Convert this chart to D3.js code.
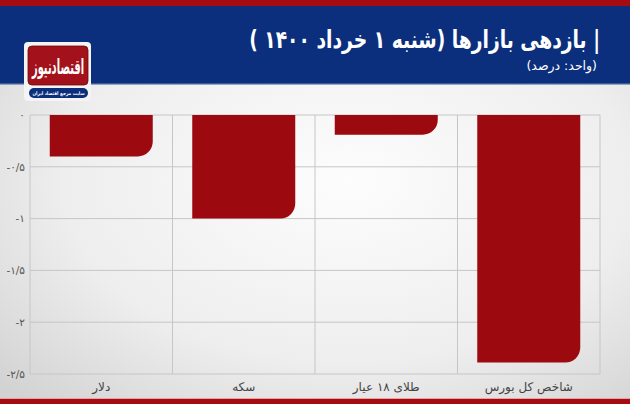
<!DOCTYPE html>
<html><head><meta charset="utf-8">
<script src="https://cdn.jsdelivr.net/npm/d3@7/dist/d3.min.js"></script>
<style>html,body{margin:0;padding:0;background:#fff}svg{display:block}</style>
</head><body>
<script>
const categories = ["دلار", "سکه", "طلای ۱۸ عیار", "شاخص کل بورس"];
const values = [-0.40, -1.00, -0.19, -2.39];
const tickValues = [0, -0.5, -1, -1.5, -2, -2.5];
const tickLabels = ["۰", "-۰/۵", "-۱", "-۱/۵", "-۲", "-۲/۵"];
const title = "| بازدهی بازارها (شنبه ۱ خرداد ۱۴۰۰ )";
const subtitle = "(واحد: درصد)";
const logoText = "اقتصادنیوز";
const logoSub = "سایت مرجع اقتصاد ایران";

const W = 630, H = 404;
const M = {left: 30, right: 30, top: 115, bottom: 30};
const FA = "'DejaVu Sans', sans-serif";

const svg = d3.select("body").append("svg").attr("width", W).attr("height", H);
const defs = svg.append("defs");
const rg = defs.append("radialGradient").attr("id", "bg").attr("cx", "55%").attr("cy", "45%").attr("r", "75%");
rg.append("stop").attr("offset", "0%").attr("stop-color", "#fdfdfd");
rg.append("stop").attr("offset", "60%").attr("stop-color", "#eeeeee");
rg.append("stop").attr("offset", "100%").attr("stop-color", "#d2d2d2");

svg.append("rect").attr("width", W).attr("height", H).attr("fill", "url(#bg)");
// header
svg.append("rect").attr("x", 0).attr("y", 0).attr("width", W).attr("height", 84).attr("fill", "#0b2f7c");
svg.append("rect").attr("x", 0).attr("y", 0).attr("width", W).attr("height", 6).attr("fill", "#a50c12");
svg.append("rect").attr("x", 0).attr("y", 83).attr("width", W).attr("height", 1.5).attr("fill", "#3d5a9a");
// bottom band
svg.append("rect").attr("x", 0).attr("y", 399).attr("width", W).attr("height", 5).attr("fill", "#a50c12");
svg.append("rect").attr("x", 0).attr("y", 398).attr("width", W).attr("height", 1).attr("fill", "#e8a0a0");

svg.append("g").attr("transform", "translate(600,48) scale(0.78,1.02)")
  .append("text").attr("x", 0).attr("y", 0)
  .attr("direction", "rtl").style("direction", "rtl").attr("text-anchor", "start")
  .attr("font-family", FA).attr("font-weight", "bold").attr("font-size", 24)
  .attr("fill", "#fff").text(title);
svg.append("text").attr("x", 597).attr("y", 70)
  .attr("direction", "rtl").style("direction", "rtl").attr("text-anchor", "start")
  .attr("font-family", FA).attr("font-size", 12.5)
  .attr("fill", "#fff").text(subtitle);

// logo
const lg = svg.append("g");
lg.append("rect").attr("x", 24).attr("y", 42).attr("width", 67).attr("height", 59).attr("rx", 4).attr("fill", "#f4f4f4");
lg.append("rect").attr("x", 28).attr("y", 46).attr("width", 60).attr("height", 39).attr("rx", 4).attr("fill", "#a3121a").attr("stroke", "#6e0a0e").attr("stroke-width", 0.8);
lg.append("g").attr("transform", "translate(58,74) scale(0.9,1.9)")
  .append("text").attr("x", 0).attr("y", 0).attr("text-anchor", "middle").style("direction", "rtl")
  .attr("font-family", FA).attr("font-weight", "bold").attr("font-size", 11).attr("fill", "#fff").text(logoText);
lg.append("rect").attr("x", 29).attr("y", 88).attr("width", 59).attr("height", 10).attr("rx", 5).attr("fill", "#0b2f7c");
lg.append("g").attr("transform", "translate(58.5,95.2) scale(0.85,1)")
  .append("text").attr("x", 0).attr("y", 0).attr("text-anchor", "middle").style("direction", "rtl")
  .attr("font-family", FA).attr("font-weight", "bold").attr("font-size", 5).attr("fill", "#fff").text(logoSub);

// scales
const x = d3.scaleBand().domain(categories).range([M.left, W - M.right]).paddingInner(0).paddingOuter(0);
const y = d3.scaleLinear().domain([0, -2.5]).range([115, 374]);

const plot = svg.append("g");
// horizontal grid
plot.append("g").selectAll("line").data(tickValues).join("line")
  .attr("x1", M.left).attr("x2", W - M.right)
  .attr("y1", d => y(d)).attr("y2", d => y(d))
  .attr("stroke", "#c6c6c6").attr("stroke-width", 1);
// vertical grid / band separators
const seps = categories.map(c => x(c)).concat([x(categories[categories.length - 1]) + x.bandwidth()]);
plot.append("g").selectAll("line").data(seps).join("line")
  .attr("x1", d => d).attr("x2", d => d)
  .attr("y1", y(0)).attr("y2", y(-2.5))
  .attr("stroke", "#c6c6c6").attr("stroke-width", 1);

// bars
const barW = 103, r = 15;
function barPath(cx, v) {
  const x0 = cx - barW / 2, x1 = cx + barW / 2;
  const y0 = y(0), y1 = y(v);
  const rr = Math.min(r, (y1 - y0));
  return `M${x0},${y0}H${x1}V${y1 - rr}A${rr},${rr} 0 0 1 ${x1 - rr},${y1}H${x0}Z`;
}
plot.append("g").selectAll("path").data(values).join("path")
  .attr("d", (v, i) => barPath(x(categories[i]) + x.bandwidth() / 2, v))
  .attr("fill", "#9c0a10");

// y axis labels
const yAxis = d3.axisLeft(y).tickValues(tickValues).tickSize(0).tickPadding(5)
  .tickFormat((d, i) => tickLabels[i]);
const ya = svg.append("g").attr("transform", `translate(${M.left},0)`).call(yAxis);
ya.select(".domain").remove();
ya.selectAll("text").attr("font-family", FA).attr("font-size", 10.5).attr("fill", "#555");

// x axis labels
const xAxis = d3.axisBottom(x).tickSize(0).tickPadding(8);
const xa = svg.append("g").attr("transform", `translate(0,${y(-2.5)})`).call(xAxis);
xa.select(".domain").remove();
xa.selectAll("text").attr("font-family", FA).attr("font-size", 12).attr("fill", "#444").style("direction", "rtl");
</script>
</body></html>
